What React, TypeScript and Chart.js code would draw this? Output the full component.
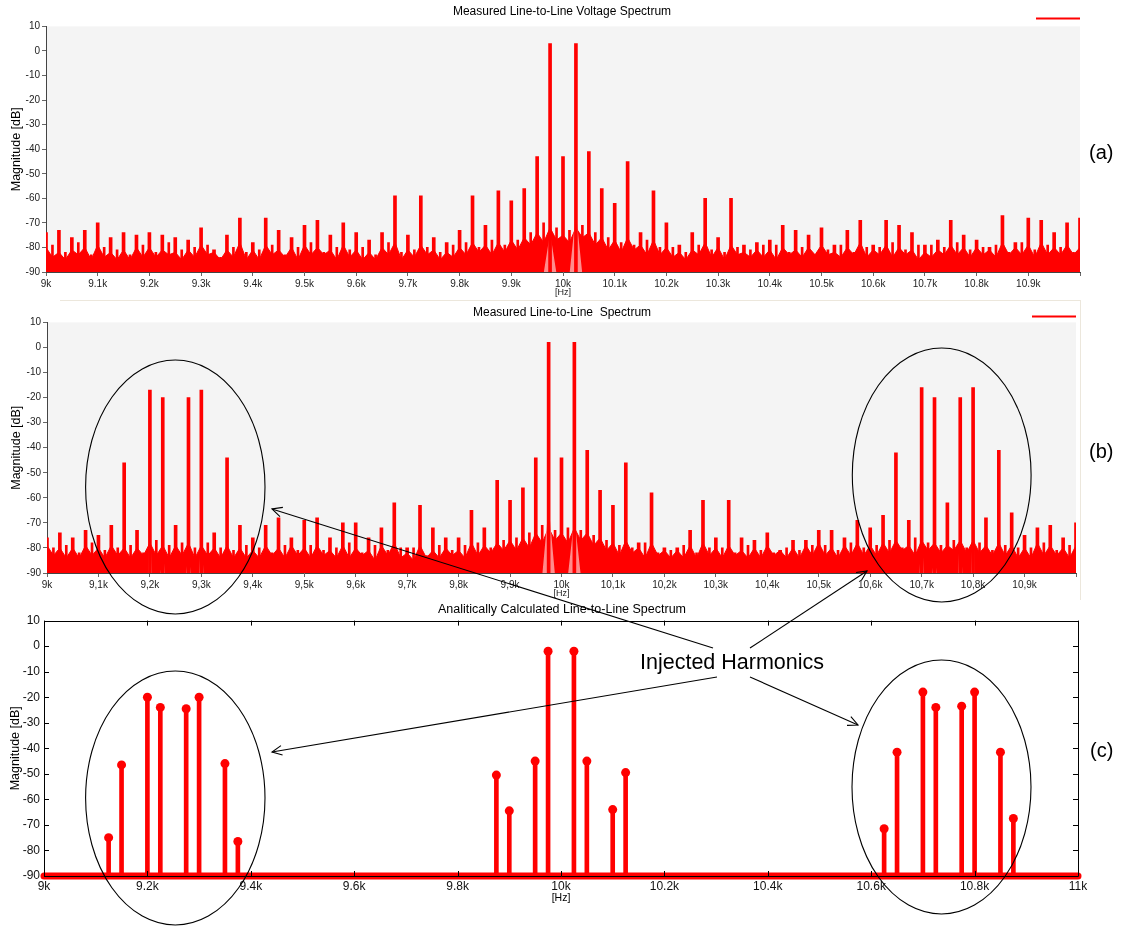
import React, { useEffect, useRef } from 'react';
import { Chart, registerables } from 'chart.js';

Chart.register(...registerables);

const FONT = "'Liberation Sans', Arial, sans-serif";
Chart.defaults.font.family = FONT;

const RED = '#ff0000';
const PINK = 'rgb(255,140,140)';

// ---------- shared frequency grid ----------
const F_START = 9000;
const PEAK_STEP = 25;
const MID_OFFSET = 12.5;
const FLOOR_STEP = 12.5;

// ---------- panel (a): Measured Line-to-Line Voltage Spectrum ----------
const PEAKS_A = [
  -74, -73, -76, -73,
  -70, -76, -74, -75,
  -74, -75, -76, -77,
  -72, -81, -75, -68,
  -78, -68, -73, -76,
  -71, -69, -75, -70,
  -74, -77, -74, -59,
  -75, -59, -76, -78,
  -73, -59, -71, -57,
  -61, -56, -43, 3,
  -43, 3, -41, -56,
  -62, -45, -74, -57,
  -70, -79, -74, -60,
  -76, -60, -79, -78,
  -77, -71, -73, -75,
  -72, -79, -73, -69,
  -79, -69, -71, -74,
  -79, -77, -69, -75,
  -77, -80, -67, -78,
  -68, -69, -74, -70,
  -68,
];
const MID_A = [
  -79, -82, -78, -83,
  -80, -81, -83, -79,
  -82, -78, -81, -80,
  -79, -84, -80, -82,
  -81, -79, -83, -80,
  -78, -82, -80, -81,
  -80, -83, -78, -82,
  -81, -80, -82, -79,
  -78, -80, -77, -79,
  -77, -74, -70, -72,
  -73, -71, -74, -76,
  -78, -79, -77, -80,
  -80, -82, -79, -81,
  -82, -80, -81, -79,
  -79, -82, -80, -83,
  -81, -79, -82, -80,
  -80, -78, -81, -79,
  -79, -80, -78, -81,
  -80, -79, -82, -78,
  -81, -79, -80, -82,
];
const FLOOR_A = [
  -80, -84, -82, -85, -81, -83, -80, -85,
  -79, -84, -82, -85, -81, -85, -80, -84,
  -80, -84, -81, -83, -82, -85, -81, -84,
  -79, -83, -82, -85, -81, -84, -78, -85,
  -81, -85, -79, -83, -81, -84, -80, -85,
  -79, -83, -80, -83, -81, -85, -79, -84,
  -81, -85, -82, -85, -80, -83, -78, -85,
  -81, -84, -79, -83, -81, -85, -82, -84,
  -80, -83, -78, -82, -79, -83, -78, -82,
  -77, -81, -76, -79, -74, -78, -72, -77,
  -75, -78, -72, -76, -74, -79, -76, -81,
  -77, -82, -76, -81, -79, -83, -77, -83,
  -80, -84, -82, -85, -81, -83, -78, -84,
  -80, -85, -79, -83, -82, -84, -81, -84,
  -81, -85, -80, -83, -81, -84, -80, -83,
  -79, -83, -82, -84, -80, -83, -78, -84,
  -81, -83, -79, -84, -80, -83, -81, -85,
  -82, -84, -81, -83, -79, -83, -80, -84,
  -80, -83, -81, -84, -78, -83, -80, -83,
  -79, -84, -78, -83, -80, -83, -79, -83,
  -80,
];
const PINK_FREQ_A = [9963, 9975, 9987, 10013, 10025, 10037];
const PINK_MAG_A = [-90, -74, -90, -90, -66, -90];
const X_LABELS_A = ['9k', '9.1k', '9.2k', '9.3k', '9.4k', '9.5k', '9.6k', '9.7k', '9.8k', '9.9k', '10k',
  '10.1k', '10.2k', '10.3k', '10.4k', '10.5k', '10.6k', '10.7k', '10.8k', '10.9k', ''];

// ---------- panel (b): Measured Line-to-Line Spectrum ----------
const PEAKS_B = [
  -76, -74, -76, -73,
  -75, -71, -46, -73,
  -17, -20, -71, -20,
  -17, -74, -44, -71,
  -76, -71, -68, -76,
  -69, -68, -76, -70,
  -70, -76, -72, -62,
  -80, -63, -72, -76,
  -76, -65, -72, -53,
  -61, -56, -44, 2,
  -44, 2, -41, -57,
  -63, -46, -78, -58,
  -80, -80, -73, -61,
  -76, -61, -76, -77,
  -74, -81, -77, -77,
  -73, -73, -76, -69,
  -72, -67, -42, -69,
  -16, -20, -62, -20,
  -16, -68, -41, -66,
  -75, -72, -71, -76,
  -70,
];
const MID_B = [
  -80, -79, -82, -78,
  -81, -80, -79, -82,
  -77, -79, -78, -80,
  -78, -80, -81, -79,
  -80, -82, -79, -81,
  -79, -81, -80, -78,
  -82, -79, -81, -80,
  -80, -83, -79, -81,
  -79, -78, -80, -77,
  -76, -74, -71, -73,
  -72, -73, -75, -77,
  -79, -80, -78, -82,
  -81, -79, -82, -80,
  -80, -82, -79, -81,
  -82, -80, -81, -79,
  -79, -81, -78, -80,
  -79, -77, -80, -76,
  -78, -79, -77, -80,
  -78, -81, -79, -80,
  -80, -78, -81, -79,
];
const FLOOR_B = [
  -79, -83, -80, -84, -80, -84, -79, -83,
  -80, -84, -79, -83, -80, -84, -80, -83,
  -78, -83, -79, -84, -79, -83, -78, -84,
  -79, -83, -80, -84, -79, -84, -80, -84,
  -81, -84, -79, -83, -80, -84, -79, -83,
  -80, -84, -79, -83, -81, -84, -79, -84,
  -80, -83, -81, -85, -79, -83, -78, -84,
  -82, -85, -79, -84, -81, -84, -80, -83,
  -81, -84, -78, -83, -79, -82, -78, -81,
  -77, -81, -76, -80, -74, -78, -72, -77,
  -74, -78, -72, -77, -74, -79, -76, -81,
  -78, -83, -77, -82, -80, -84, -78, -83,
  -81, -84, -81, -84, -79, -84, -78, -83,
  -80, -84, -79, -83, -81, -84, -80, -84,
  -79, -83, -81, -84, -80, -84, -79, -83,
  -78, -83, -80, -84, -79, -83, -78, -83,
  -79, -83, -78, -82, -77, -81, -79, -83,
  -77, -81, -78, -82, -79, -81, -77, -82,
  -77, -82, -79, -83, -78, -83, -79, -84,
  -80, -84, -78, -83, -79, -83, -80, -84,
  -79,
];
const PINK_FREQ_B = [9196, 9200, 9204, 9221, 9225, 9229, 9271, 9275, 9279, 9296, 9300, 9304,
  9963, 9975, 9987, 10013, 10025, 10037,
  10696, 10700, 10704, 10721, 10725, 10729, 10771, 10775, 10779, 10796, 10800, 10804];
const PINK_MAG_B = [-90, -71, -90, -90, -80, -90, -90, -80, -90, -90, -72, -90,
  -90, -63, -90, -90, -68, -90,
  -90, -71, -90, -90, -82, -90, -90, -70, -90, -90, -71, -90];
const X_LABELS_B = ['9k', '9,1k', '9,2k', '9,3k', '9,4k', '9,5k', '9,6k', '9,7k', '9,8k', '9,9k', '10k',
  '10,1k', '10,2k', '10,3k', '10,4k', '10,5k', '10,6k', '10,7k', '10,8k', '10,9k', ''];

// ---------- panel (c): Analitically Calculated Line-to-Line Spectrum ----------
const STEM_FREQ_C = [9125, 9150, 9200, 9225, 9275, 9300, 9350, 9375,
  9875, 9900, 9950, 9975, 10025, 10050, 10100, 10125,
  10625, 10650, 10700, 10725, 10775, 10800, 10850, 10875];
const STEM_MAG_C = [-75, -46.5, -20, -24, -24.5, -20, -46, -76.5,
  -50.5, -64.5, -45, -2, -2, -45, -64, -49.5,
  -71.5, -41.5, -18, -24, -23.5, -18, -41.5, -67.5];
const BASE_FREQ_C = [9000, 11000];
const BASE_MAG_C = [-90, -90];
const X_LABELS_C = ['9k', '9.2k', '9.4k', '9.6k', '9.8k', '10k', '10.2k', '10.4k', '10.6k', '10.8k', '11k'];

const Y_MIN = -90;
const Y_MAX = 10;

// ---------- plugins ----------
const bgPlugin = {
  id: 'plotBg',
  beforeDraw(chart: any) {
    const { ctx, chartArea: a } = chart;
    ctx.save();
    ctx.fillStyle = '#f4f4f4';
    ctx.fillRect(a.left, a.top, a.right - a.left, a.bottom - a.top);
    ctx.restore();
  },
};

function legendPlugin(offset: number) {
  return {
    id: 'legendLine',
    afterDraw(chart: any) {
      const { ctx, chartArea: a } = chart;
      ctx.save();
      ctx.strokeStyle = RED;
      ctx.lineWidth = 2;
      ctx.beginPath();
      ctx.moveTo(a.right - 44, a.top - offset);
      ctx.lineTo(a.right, a.top - offset);
      ctx.stroke();
      ctx.restore();
    },
  };
}

const boxPlugin = {
  id: 'matlabBox',
  afterDraw(chart: any) {
    const { ctx, chartArea: a, scales } = chart;
    ctx.save();
    ctx.strokeStyle = '#000';
    ctx.lineWidth = 1;
    ctx.beginPath();
    ctx.rect(Math.round(a.left) + 0.5, Math.round(a.top) + 0.5, Math.round(a.right - a.left), Math.round(a.bottom - a.top));
    const L = 5;
    scales.x.ticks.forEach((t: any) => {
      const px = Math.round(scales.x.getPixelForValue(t.value)) + 0.5;
      ctx.moveTo(px, a.bottom); ctx.lineTo(px, a.bottom - L);
      ctx.moveTo(px, a.top); ctx.lineTo(px, a.top + L);
    });
    scales.y.ticks.forEach((t: any) => {
      const py = Math.round(scales.y.getPixelForValue(t.value)) + 0.5;
      ctx.moveTo(a.left, py); ctx.lineTo(a.left + L, py);
      ctx.moveTo(a.right, py); ctx.lineTo(a.right - L, py);
    });
    ctx.stroke();
    ctx.restore();
  },
};

// ---------- configs ----------
function spectrumConfig(p: any) {
  const floorData = p.floor.map((v: number, i: number) => ({ x: F_START + i * FLOOR_STEP, y: v }));
  const peakData = p.peaks.map((v: number, i: number) => ({ x: F_START + i * PEAK_STEP, y: [Y_MIN, v] }));
  const midData = p.mids.map((v: number, i: number) => ({ x: F_START + MID_OFFSET + i * PEAK_STEP, y: [Y_MIN, v] }));
  const pinkData = p.pinkF.map((f: number, i: number) => ({ x: f, y: p.pinkM[i] }));
  const tickFont = { size: 10, family: FONT };
  return {
    type: 'line',
    data: {
      datasets: [
        { type: 'line', data: floorData, borderColor: RED, borderWidth: 1, backgroundColor: RED, fill: 'start', pointRadius: 0, tension: 0, order: 4 },
        { type: 'bar', data: midData, backgroundColor: RED, borderWidth: 0, barThickness: 2, grouped: false, order: 3 },
        { type: 'line', data: pinkData, borderColor: 'rgba(0,0,0,0)', borderWidth: 0, backgroundColor: PINK, fill: 'start', pointRadius: 0, tension: 0, order: 2 },
        { type: 'bar', data: peakData, backgroundColor: RED, borderWidth: 0, barThickness: 3, grouped: false, order: 1 },
      ],
    },
    options: {
      responsive: false,
      animation: false,
      events: [],
      layout: { padding: 0 },
      plugins: {
        legend: { display: false },
        tooltip: { enabled: false },
        title: {
          display: true,
          text: p.title,
          color: '#000',
          font: { size: 12, family: FONT, weight: 'normal' },
          padding: p.titlePad,
        },
      },
      scales: {
        x: {
          type: 'linear', min: 9000, max: 11000, offset: false,
          grid: { display: true, drawOnChartArea: false, drawTicks: true, tickLength: 4, color: '#666', offset: false },
          border: { display: true, color: '#444' },
          ticks: {
            stepSize: 100, autoSkip: false, maxRotation: 0, minRotation: 0, padding: 2, color: '#222', font: tickFont,
            callback: (_v: any, i: number) => p.xLabels[i] ?? '',
          },
          title: { display: true, text: '[Hz]', color: '#222', font: { size: 9, family: FONT }, padding: { top: 0, bottom: p.hzPad } },
          afterFit: (s: any) => { s.height = p.xHeight; },
        },
        y: {
          type: 'linear', min: Y_MIN, max: Y_MAX, beginAtZero: false,
          grid: { display: true, drawOnChartArea: false, drawTicks: true, tickLength: 4, color: '#666' },
          border: { display: true, color: '#444' },
          ticks: { stepSize: 10, padding: 2, color: '#222', font: tickFont, callback: (v: any) => String(v) },
          title: { display: true, text: 'Magnitude [dB]', color: '#000', font: { size: 12.5, family: FONT }, padding: { top: 9, bottom: 0 } },
          afterFit: (s: any) => { s.width = p.yWidth; },
        },
        yr: {
          type: 'linear', position: 'right', display: true,
          grid: { display: false }, ticks: { display: false }, border: { display: false },
          afterFit: (s: any) => { s.width = p.rightWidth; },
        },
      },
    },
    plugins: [bgPlugin, legendPlugin(p.legendOffset)],
  };
}

function calcConfig() {
  const stems = STEM_FREQ_C.map((f, i) => ({ x: f, y: [Y_MIN, STEM_MAG_C[i]] }));
  const tops = STEM_FREQ_C.map((f, i) => ({ x: f, y: STEM_MAG_C[i] }));
  const base = BASE_FREQ_C.map((f, i) => ({ x: f, y: BASE_MAG_C[i] }));
  const tickFont = { size: 12, family: FONT };
  return {
    type: 'line',
    data: {
      datasets: [
        { type: 'line', data: base, borderColor: RED, borderWidth: 7, borderCapStyle: 'round', pointRadius: 0, fill: false, showLine: true, clip: 10, order: 3 },
        { type: 'bar', data: stems, backgroundColor: RED, borderWidth: 0, barThickness: 4, grouped: false, order: 2 },
        { type: 'line', data: tops, showLine: false, pointRadius: 4.5, pointBackgroundColor: RED, pointBorderWidth: 0, backgroundColor: RED, borderColor: RED, clip: 10, order: 1 },
      ],
    },
    options: {
      responsive: false,
      animation: false,
      events: [],
      layout: { padding: 0 },
      plugins: {
        legend: { display: false },
        tooltip: { enabled: false },
        title: {
          display: true,
          text: 'Analitically Calculated Line-to-Line Spectrum',
          color: '#000',
          font: { size: 12.5, family: FONT, weight: 'normal' },
          padding: { top: 2, bottom: 3.6 },
        },
      },
      scales: {
        x: {
          type: 'linear', min: 9000, max: 11000, offset: false,
          grid: { display: false, drawTicks: false, offset: false },
          border: { display: false },
          ticks: {
            stepSize: 200, autoSkip: false, maxRotation: 0, minRotation: 0, padding: 3, color: '#111', font: tickFont,
            callback: (_v: any, i: number) => X_LABELS_C[i] ?? '',
          },
          title: { display: true, text: '[Hz]', color: '#000', font: { size: 10.5, family: FONT }, padding: { top: 0, bottom: 22 } },
          afterFit: (s: any) => { s.height = 50; },
        },
        y: {
          type: 'linear', min: Y_MIN, max: Y_MAX, beginAtZero: false,
          grid: { display: false, drawTicks: false },
          border: { display: false },
          ticks: { stepSize: 10, padding: 4, color: '#111', font: tickFont, callback: (v: any) => String(v) },
          title: { display: true, text: 'Magnitude [dB]', color: '#000', font: { size: 12.5, family: FONT }, padding: { top: 8, bottom: 0 } },
          afterFit: (s: any) => { s.width = 44; },
        },
        yr: {
          type: 'linear', position: 'right', display: true,
          grid: { display: false }, ticks: { display: false }, border: { display: false },
          afterFit: (s: any) => { s.width = 46; },
        },
      },
    },
    plugins: [boxPlugin],
  };
}

// ---------- annotations ----------
const ELLIPSES = [
  { cx: 175.3, cy: 487, rx: 89.7, ry: 127 },
  { cx: 941.7, cy: 475, rx: 89.4, ry: 127 },
  { cx: 175.3, cy: 798, rx: 89.7, ry: 127 },
  { cx: 941.5, cy: 787, rx: 89.5, ry: 127 },
];
const ARROWS = [
  [713, 648, 272, 509],
  [750, 648, 867, 571],
  [717, 677, 272, 752],
  [750, 677, 858, 725],
];

function arrowHead(x1: number, y1: number, x2: number, y2: number) {
  const ang = Math.atan2(y2 - y1, x2 - x1);
  const len = 11;
  const spread = 0.45;
  const a1 = ang + Math.PI - spread;
  const a2 = ang + Math.PI + spread;
  return `${x2 + len * Math.cos(a1)},${y2 + len * Math.sin(a1)} ${x2},${y2} ${x2 + len * Math.cos(a2)},${y2 + len * Math.sin(a2)}`;
}

function ChartCanvas({ make, top, height }: { make: () => any; top: number; height: number }) {
  const ref = useRef<HTMLCanvasElement | null>(null);
  useEffect(() => {
    if (!ref.current) return;
    const chart = new Chart(ref.current, make());
    return () => chart.destroy();
  }, []);
  return (
    <canvas
      ref={ref}
      width={1124}
      height={height}
      style={{ position: 'absolute', left: 0, top, width: 1124, height }}
    />
  );
}

export default function App() {
  useEffect(() => {
    document.body.style.margin = '0';
    document.body.style.background = '#fff';
  }, []);
  return (
    <div style={{ position: 'relative', width: 1124, height: 926, overflow: 'hidden', background: '#fff' }}>
      <ChartCanvas
        top={0}
        height={300}
        make={() => spectrumConfig({
          title: 'Measured Line-to-Line Voltage Spectrum',
          titlePad: { top: 4, bottom: 8 },
          peaks: PEAKS_A, mids: MID_A, floor: FLOOR_A, pinkF: PINK_FREQ_A, pinkM: PINK_MAG_A,
          xLabels: X_LABELS_A, yWidth: 46, rightWidth: 44, xHeight: 28, hzPad: 2, legendOffset: 8,
        })}
      />
      <ChartCanvas
        top={300}
        height={300}
        make={() => spectrumConfig({
          title: 'Measured Line-to-Line  Spectrum',
          titlePad: { top: 5, bottom: 3 },
          peaks: PEAKS_B, mids: MID_B, floor: FLOOR_B, pinkF: PINK_FREQ_B, pinkM: PINK_MAG_B,
          xLabels: X_LABELS_B, yWidth: 47, rightWidth: 48, xHeight: 27, hzPad: 1, legendOffset: 6,
        })}
      />
      <ChartCanvas top={600} height={326} make={calcConfig} />
      <svg
        width={1124}
        height={926}
        style={{ position: 'absolute', left: 0, top: 0, pointerEvents: 'none' }}
      >
        <line x1={60} y1={300.5} x2={1081} y2={300.5} stroke="#ece7dc" strokeWidth={1} />
        <line x1={1080.5} y1={300} x2={1080.5} y2={600} stroke="#ece7dc" strokeWidth={1} />
        {ELLIPSES.map((e, i) => (
          <ellipse key={i} cx={e.cx} cy={e.cy} rx={e.rx} ry={e.ry} fill="none" stroke="#000" strokeWidth={1.1} />
        ))}
        {ARROWS.map(([x1, y1, x2, y2], i) => (
          <g key={i}>
            <line x1={x1} y1={y1} x2={x2} y2={y2} stroke="#000" strokeWidth={1.1} />
            <polyline points={arrowHead(x1, y1, x2, y2)} fill="none" stroke="#000" strokeWidth={1.1} />
          </g>
        ))}
        <text x={640} y={669} fontFamily={FONT} fontSize={21.5} fill="#000">Injected Harmonics</text>
        <text x={1089} y={159} fontFamily={FONT} fontSize={20} fill="#000">(a)</text>
        <text x={1089} y={458} fontFamily={FONT} fontSize={20} fill="#000">(b)</text>
        <text x={1090} y={757} fontFamily={FONT} fontSize={20} fill="#000">(c)</text>
      </svg>
    </div>
  );
}
